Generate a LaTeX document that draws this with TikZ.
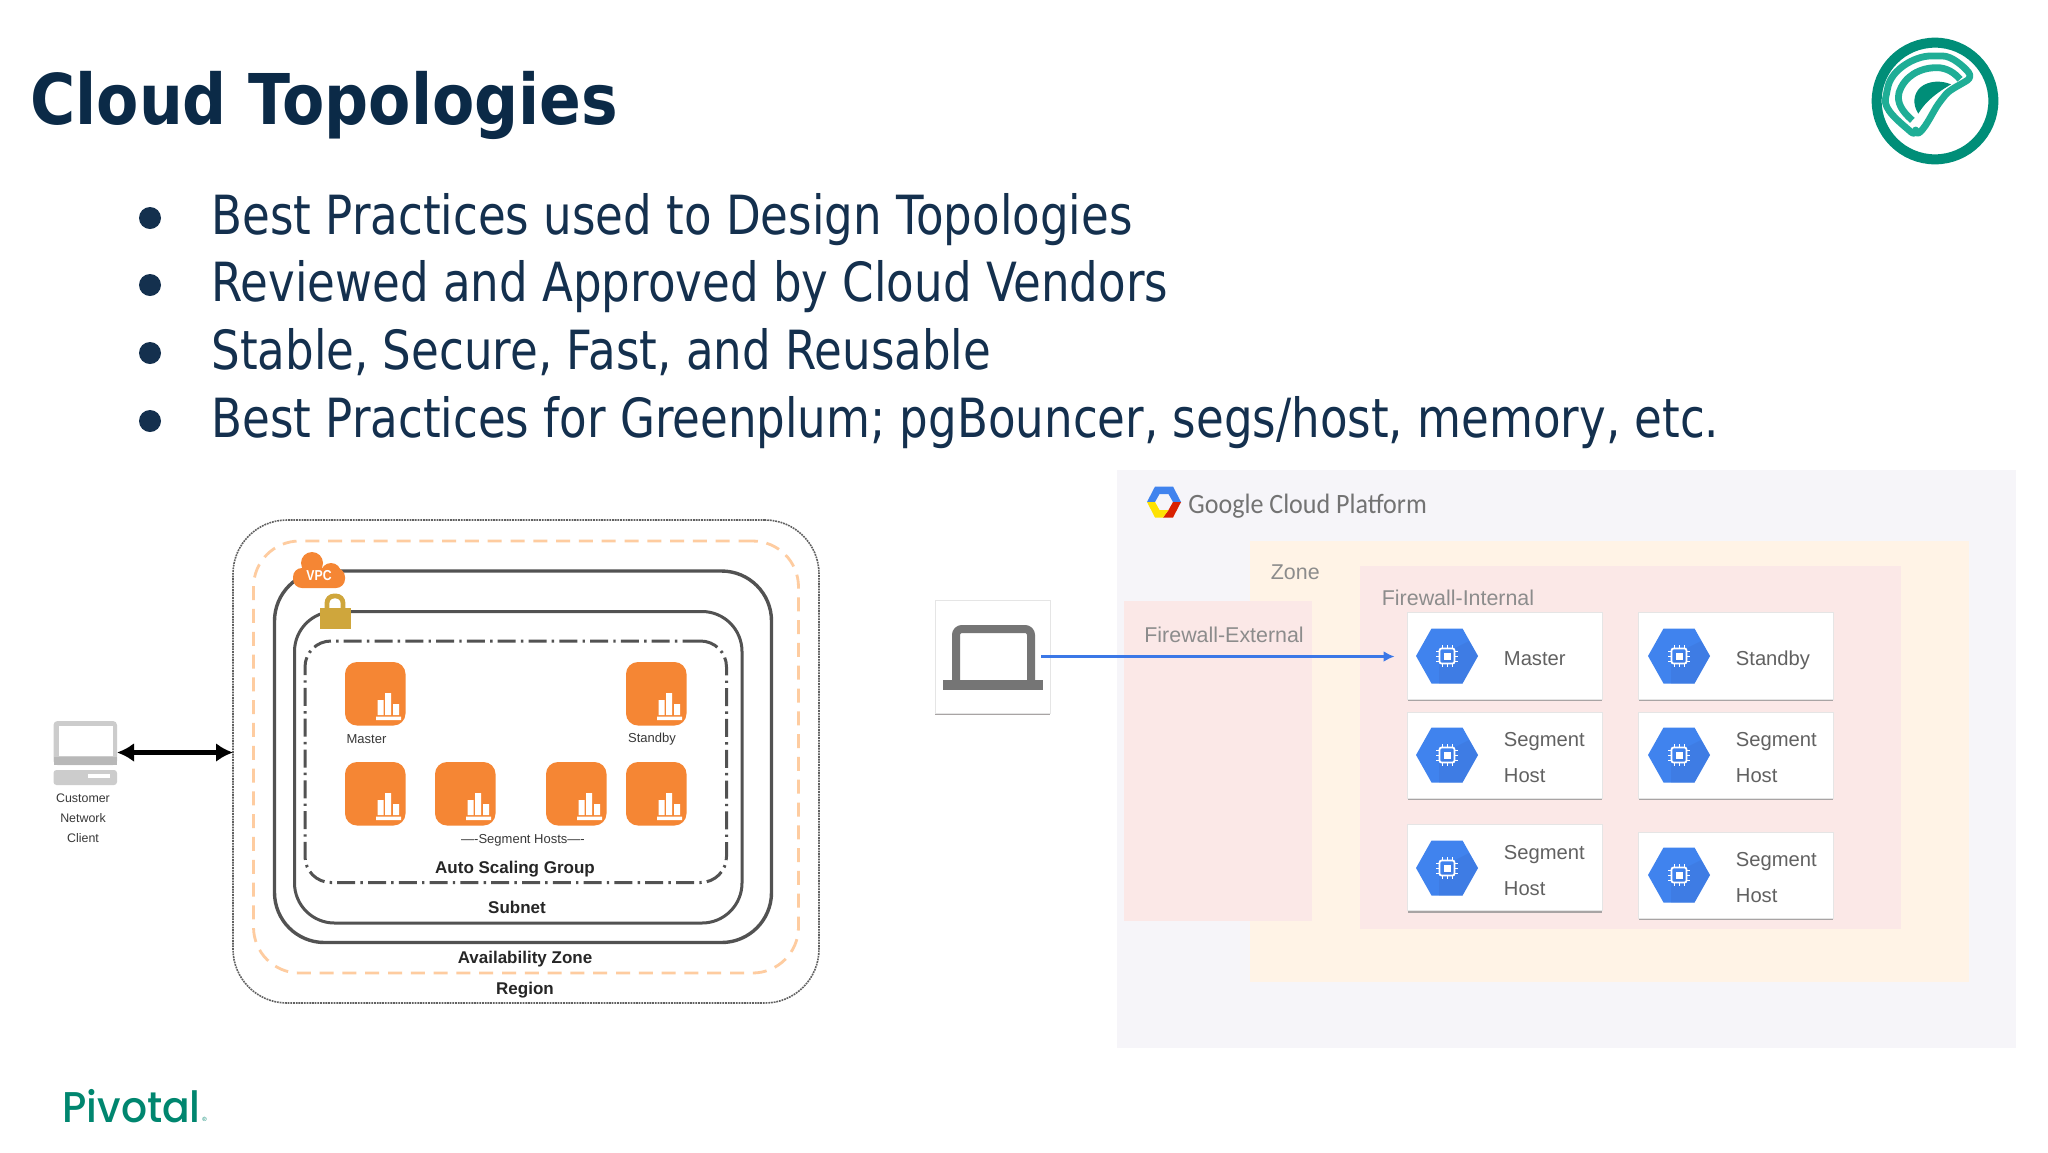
\documentclass[tikz,border=0pt]{standalone}
\usepackage{fontspec}
\usetikzlibrary{arrows.meta,shadows,calc}
\setmainfont{Liberation Sans}
\newfontfamily\titlef{DejaVu Sans}[FakeStretch=0.88]
\newfontfamily\bodyf{DejaVu Sans}[FakeStretch=0.8355]
\newfontfamily\gcpf{Carlito}[FakeStretch=0.93]
\newfontfamily\pivf{Poppins Medium}
\definecolor{navy}{HTML}{0B2A47}
\definecolor{bodyc}{HTML}{14304E}
\definecolor{tealr}{HTML}{008E78}
\definecolor{teall}{HTML}{1FAE96}
\definecolor{pivc}{HTML}{00866F}
\definecolor{orng}{HTML}{F58634}
\definecolor{lockc}{HTML}{CFA63C}
\definecolor{gcpbg}{HTML}{F6F5F9}
\definecolor{zonec}{HTML}{FFF3E6}
\definecolor{fwc}{HTML}{FBE8E7}
\definecolor{gblue}{HTML}{4083EE}
\definecolor{gbluedk}{HTML}{3A6FD0}
\definecolor{arrowb}{HTML}{3B78E7}
\definecolor{lapg}{HTML}{757575}
\definecolor{shadowc}{HTML}{A8A4A4}
\tikzset{
  x=0.5pt,y=-0.5pt,
  frame/.style={draw,inner sep=0pt,outer sep=0pt,fill=none},
  regionbox/.style={frame,draw=black!62,line width=.8pt,dash pattern=on .9pt off .45pt,rounded corners=27pt},
  zonedash/.style={frame,draw=orange!30!white!85!orng,line width=1.4pt,dash pattern=on 7pt off 4.4pt,rounded corners=23pt},
  azbox/.style={frame,draw=black!68,line width=1.7pt,rounded corners=25pt},
  subnetbox/.style={frame,draw=black!68,line width=1.5pt,rounded corners=20pt},
  asgbox/.style={frame,draw=black!68,line width=1.5pt,dash pattern=on 9pt off 2.6pt on 1.2pt off 2.6pt,rounded corners=13pt},
  tile/.style={inner sep=0pt,outer sep=0pt,fill=orng,rounded corners=6pt},
  panel/.style={inner sep=0pt,outer sep=0pt},
  card/.style={inner sep=0pt,outer sep=0pt,fill=white,draw=black!10,line width=.3pt,drop shadow={shadow xshift=0pt,shadow yshift=-1pt,fill=shadowc,opacity=1}},
  lab/.style={text=black!78,font=\fontsize{6.5}{8}\selectfont},
  blab/.style={text=black!85,font=\bfseries\fontsize{8.5}{10}\selectfont},
  glab/.style={text=black!45,font=\fontsize{10.7}{12}\selectfont,anchor=base west,inner sep=0pt},
  hlab/.style={text=black!62,font=\fontsize{10.1}{12}\selectfont,anchor=base west,inner sep=0pt},
  bullettext/.style={text=bodyc,font=\bodyf\fontsize{27}{30}\selectfont,anchor=base west,inner sep=0pt},
  bulletdot/.style={circle,fill=bodyc,inner sep=0pt,minimum size=11pt},
}
\newcommand\BoxAt[6]{%
  \pgfmathsetmacro\bw{(#5-#3)/2}\pgfmathsetmacro\bh{(#6-#4)/2}%
  \node[#1,minimum width=\bw pt,minimum height=\bh pt] (#2) at ({(#3+#5)/2},{(#4+#6)/2}) {};}
\newcommand\Tile[3]{%
  \BoxAt{tile}{#1}{#2}{#3}{#2+60.5}{#3+63.5}
  \begin{scope}[shift={(#2,#3)}]
    \fill[white] (32.5,38) rectangle (38.5,53) (40,31) rectangle (46,53) (48,42) rectangle (54,53) (31,54.5) rectangle (56,58);
  \end{scope}}
\newcommand\HexIcon[2]{%
  \begin{scope}[shift={(#1,#2)}]
    \fill[gblue] (-31,0)--(-15.5,-27.5)--(15.5,-27.5)--(31,0)--(15.5,27.5)--(-15.5,27.5)--cycle;
    \fill[gbluedk,opacity=.3] (8,-8)--(22,-15)--(31,0)--(15.5,27.5)--(-8,27.5)--(-8,8)--cycle;
    \draw[white,line width=.9pt,rounded corners=1pt] (-7.5,-7.5) rectangle (7.5,7.5);
    \fill[white] (-3.5,-3.5) rectangle (3.5,3.5);
    \foreach \p in {-5,0,5}{%
      \draw[white,line width=.5pt] (\p,-11)--(\p,-8) (\p,8)--(\p,11) (-11,\p)--(-8,\p) (8,\p)--(11,\p);}
  \end{scope}}
\begin{document}
\begin{tikzpicture}
\useasboundingbox (0,0) rectangle (2048,1152);
\fill[white] (0,0) rectangle (2048,1152);

% Title and bullets
\node[text=navy,font=\titlef\bfseries\fontsize{35}{40}\selectfont,anchor=base west,inner sep=0pt] (title) at (30,124) {Cloud Topologies};
\foreach \i/\yy/\t in {a/234/{Best Practices used to Design Topologies},b/301/{Reviewed and Approved by Cloud Vendors},c/369/{Stable, Secure, Fast, and Reusable},d/437/{Best Practices for Greenplum; pgBouncer, segs/host, memory, etc.}}{%
  \node[bullettext] (line\i) at (211,\yy) {\t};
  \node[bulletdot] (dot\i) at (150,\yy-16) {};
}

% Logo
\begin{scope}[shift={(1935,101)},x=.1667pt,y=-.1667pt]
  \draw[tealr,line width=5pt] (0,0) circle[radius=175];
  \draw[teall,line width=3.4pt,line join=round,rounded corners=3pt]
    (-58,105) .. controls (-110,60) and (-155,25) .. (-145,-25)
    .. controls (-130,-95) and (-60,-135) .. (5,-135)
    .. controls (50,-135) and (85,-105) .. (112,-72)
    .. controls (75,-48) and (45,-35) .. (20,-5)
    .. controls (-5,30) and (-25,75) .. cycle;
  \draw[teall,line width=3.4pt] (-68,58) .. controls (-100,30) and (-115,5) .. (-108,-25)
    .. controls (-92,-75) and (-45,-100) .. (5,-100)
    .. controls (35,-100) and (58,-85) .. (75,-65);
  \fill[tealr] (-50,38) .. controls (-68,10) and (-65,-20) .. (-45,-40)
    .. controls (-20,-62) and (20,-62) .. (48,-50)
    .. controls (15,-30) and (-25,-5) .. cycle;
\end{scope}

% Pivotal wordmark
\node[text=pivc,font=\pivf\fontsize{21.5}{24}\selectfont,anchor=base west,inner sep=0pt,xscale=.95] (pivotal) at (62,1122) {Pivotal};
\node[text=pivc,font=\fontsize{3}{4}\selectfont,inner sep=0pt] (pivreg) at (204.5,1119) {®};

% Left: client
\BoxAt{panel,fill=black!20,rounded corners=2pt}{clientscreen}{53.5}{721}{117}{765}
\fill[white] (58.5,725.5) rectangle (113,756);
\fill[black!28] (53.5,757) rectangle (117,765);
\BoxAt{panel,fill=black!20,rounded corners=1.5pt}{clientbase}{53.5}{770}{117}{785}
\fill[white] (88,774) rectangle (110,777.5);
\node[lab,font=\fontsize{6.2}{8}\selectfont] (c1) at (83,798) {Customer};
\node[lab,font=\fontsize{6.2}{8}\selectfont] (c2) at (83,818) {Network};
\node[lab,font=\fontsize{6.2}{8}\selectfont] (c3) at (83,838) {Client};

% Left: nested containers
\BoxAt{regionbox}{region}{233}{520}{819}{1003}
\BoxAt{zonedash}{azdash}{253.5}{541}{798.5}{973}
\BoxAt{azbox}{az}{274.5}{571}{771.5}{942.5}
\BoxAt{subnetbox}{subnet}{294.5}{611.5}{742}{923}
\BoxAt{asgbox}{asg}{305}{641}{726.5}{882.5}

% VPC cloud
\fill[orng] (312,563) circle[radius=11] (331,573) circle[radius=10];
\fill[orng,rounded corners=4.5pt] (293,568) rectangle (345,588);
\node[text=white,font=\bfseries\fontsize{7.2}{8}\selectfont,inner sep=0pt,xscale=.85] (vpc) at (319,576) {VPC};
% lock
\draw[lockc,line width=2.4pt,rounded corners=3.5pt] (327,610)--(327,596)--(343,596)--(343,610);
\fill[lockc] (320,608) rectangle (351,629);

% Tiles
\Tile{tmaster}{345}{662}
\Tile{tstandby}{626}{662}
\Tile{tseg1}{345}{762}
\Tile{tseg2}{435}{762}
\Tile{tseg3}{546}{762}
\Tile{tseg4}{626}{762}
\node[lab] (lmaster) at (366.5,739.5) {Master};
\node[lab] (lstandby) at (652,739.5) {Standby};
\node[lab] (lseg) at (523,840) {----Segment Hosts----};
\node[blab] (lasg) at (515,869) {Auto Scaling Group};
\node[blab] (lsubnet) at (517,907) {Subnet};
\node[blab] (laz) at (525,959.5) {Availability Zone};
\node[blab] (lregion) at (525,990.5) {Region};

\coordinate (clientport) at (117,752.5);
\draw[{Latex[length=8.5pt,width=9.5pt]}-{Latex[length=8.5pt,width=9.5pt]},line width=2.1pt,black] (clientport) -- (clientport -| region.west);

% Right: panels
\BoxAt{panel,fill=gcpbg}{gcp}{1117}{470}{2016}{1048}
\BoxAt{panel,fill=zonec}{zone}{1250}{541}{1969}{982}
\BoxAt{panel,fill=fwc}{fwint}{1360}{566}{1901}{929}
\BoxAt{panel,fill=fwc}{fwext}{1124}{601}{1311.5}{921}

% GCP logo
\fill[gblue] (1147,502)--(1155,486.5)--(1173,486.5)--(1181,502)--(1173,502)--(1168.5,494)--(1159.5,494)--(1155,502)--cycle;
\fill[red!70!orange!85!black] (1181,502)--(1173,517.5)--(1163,517.5)--(1168.5,510)--(1173,502)--cycle;
\fill[yellow!85!orange] (1147,502)--(1155,502)--(1159.5,510)--(1168.5,510)--(1163,517.5)--(1155,517.5)--cycle;
\node[text=black!55,font=\gcpf\fontsize{14}{16}\selectfont,anchor=base west,inner sep=0pt] (gcptext) at (1188,513) {Google Cloud Platform};

\node[glab] (lzone) at (1270.5,579.5) {Zone};
\node[glab] (lfwint) at (1381.5,605) {Firewall-Internal};
\node[glab] (lfwext) at (1144,642) {Firewall-External};

% Laptop
\BoxAt{card}{lapcard}{935}{600}{1050}{713}
\draw[lapg,line width=4pt,rounded corners=3pt] (956,684)--(956,629)--(1031,629)--(1031,684);
\fill[lapg] (943,680) rectangle (1043,690);

% Host cards
\BoxAt{card}{master}{1407.5}{612}{1602}{699}
\BoxAt{card}{standby}{1638.5}{612}{1833}{699}
\BoxAt{card}{sega}{1407.5}{712}{1602}{798}
\BoxAt{card}{segb}{1638.5}{712}{1833}{798}
\BoxAt{card}{segc}{1407.5}{824.5}{1602}{910.5}
\BoxAt{card}{segd}{1638.5}{832}{1833}{918}
\HexIcon{1447}{656}
\HexIcon{1679}{656}
\HexIcon{1447}{755}
\HexIcon{1679}{755}
\HexIcon{1447}{868}
\HexIcon{1679}{875}
\node[hlab] (tm) at (1503.5,665) {Master};
\node[hlab] (ts) at (1735.5,665) {Standby};
\node[hlab] (ta1) at (1503.5,746) {Segment};
\node[hlab] (ta2) at (1503.5,782.5) {Host};
\node[hlab] (tb1) at (1735.5,746) {Segment};
\node[hlab] (tb2) at (1735.5,782.5) {Host};
\node[hlab] (tc1) at (1503.5,859) {Segment};
\node[hlab] (tc2) at (1503.5,895) {Host};
\node[hlab] (td1) at (1735.5,866) {Segment};
\node[hlab] (td2) at (1735.5,902.5) {Host};

\draw[-{Latex[length=5.5pt,width=5.5pt]},arrowb,line width=1.3pt,shorten >=6.5pt] ([xshift=-4.5pt]lapcard.east) -- (lapcard.east -| master.west);
\end{tikzpicture}
\end{document}
